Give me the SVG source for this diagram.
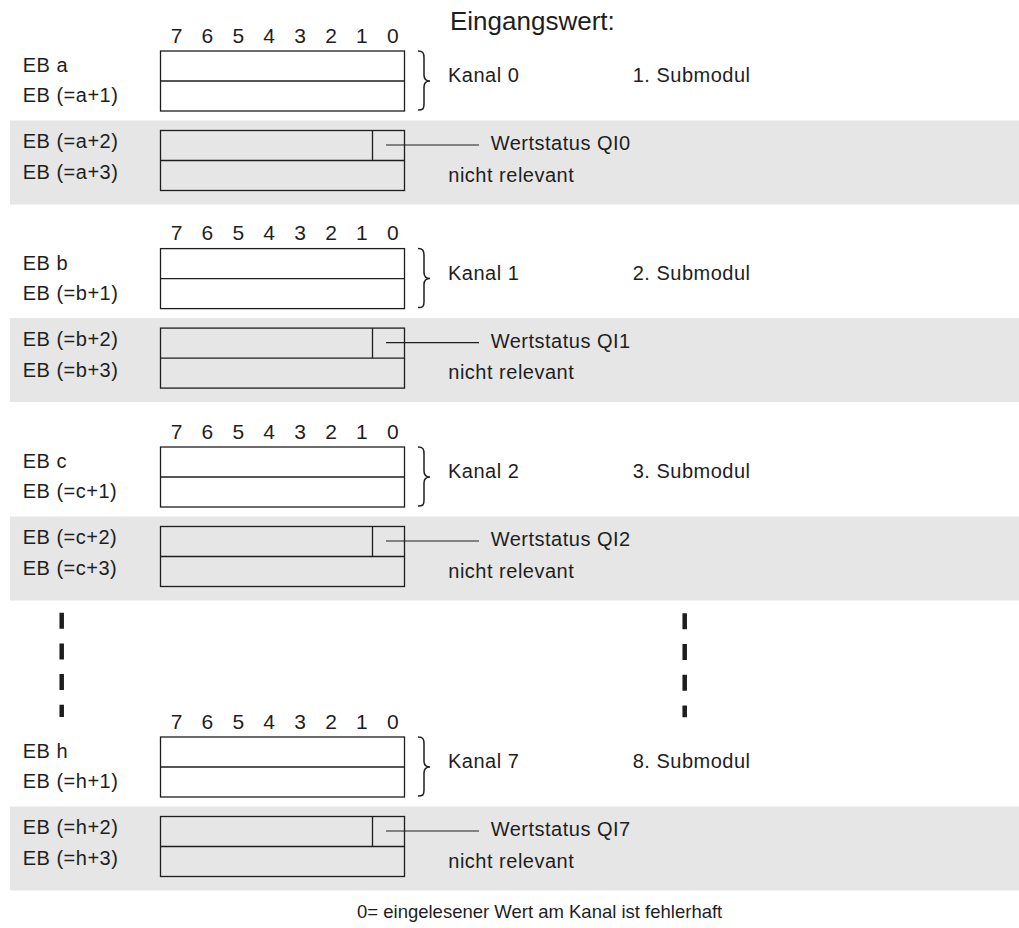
<svg xmlns="http://www.w3.org/2000/svg" width="1019" height="928" viewBox="0 0 1019 928">
  <style>
    text { font-family: "Liberation Sans", Arial, sans-serif; fill: #1e1e1e; }
    .lbl { font-size: 20px; letter-spacing: 0.5px; }
    .bit { font-size: 21px; text-anchor: middle; }
    .title { font-size: 26px; }
    .foot { font-size: 18.5px; }
    .band { fill: #e6e6e6; }
    .box { fill: none; stroke: #1e1e1e; stroke-width: 1.3; }
    .brace { fill: none; stroke: #1e1e1e; stroke-width: 1.5; }
    .lead { stroke: #1e1e1e; stroke-width: 1.2; }
    .dots { stroke: #1e1e1e; stroke-width: 4.5; stroke-dasharray: 16 14.7; }
  </style>
  <defs>
    <!-- bit numbering above a byte pair -->
    <g id="bits">
      <text class="bit" x="176.5" y="0">7</text>
      <text class="bit" x="207.4" y="0">6</text>
      <text class="bit" x="238.3" y="0">5</text>
      <text class="bit" x="269.2" y="0">4</text>
      <text class="bit" x="300.1" y="0">3</text>
      <text class="bit" x="331" y="0">2</text>
      <text class="bit" x="361.9" y="0">1</text>
      <text class="bit" x="392.8" y="0">0</text>
    </g>
    <!-- two data bytes with brace -->
    <g id="dataBytes">
      <rect class="box" x="160.5" y="51" width="244" height="60"/>
      <line class="box" x1="160.5" y1="81" x2="404.5" y2="81"/>
      <path class="brace" d="M418,51 C423,51 424,53 424,58 L424,75 C424,79 426,81 430,81 C426,81 424,83 424,87 L424,104 C424,109 423,110 418,110"/>
    </g>
    <!-- status bytes on grey band -->
    <g id="statusBytes">
      <rect class="band" x="10" y="120.5" width="1009" height="84"/>
      <rect class="box" x="160.5" y="130.5" width="244" height="60"/>
      <line class="box" x1="160.5" y1="160.5" x2="404.5" y2="160.5"/>
      <line class="box" x1="372.5" y1="130.5" x2="372.5" y2="160.5"/>
    </g>
  </defs>

  <text class="title" x="450" y="30">Eingangswert:</text>

  <!-- submodule 1 -->
  <g id="submodul1">
    <use href="#statusBytes"/>
    <use href="#dataBytes"/>
    <use href="#bits" y="42.5"/>
    <text class="lbl" x="22.7" y="72">EB a</text>
    <text class="lbl" x="22.7" y="102">EB (=a+1)</text>
    <text class="lbl" x="22.7" y="148">EB (=a+2)</text>
    <text class="lbl" x="22.7" y="179">EB (=a+3)</text>
    <text class="lbl" x="448" y="82">Kanal 0</text>
    <text class="lbl" x="632.7" y="82">1. Submodul</text>
    <text class="lbl" x="490.7" y="150">Wertstatus QI0</text>
    <text class="lbl" x="448.3" y="181.5">nicht relevant</text>
  </g>

  <!-- submodule 2 -->
  <g id="submodul2" transform="translate(0 197.6)">
    <use href="#statusBytes"/>
    <use href="#dataBytes"/>
    <use href="#bits" y="42.5"/>
    <text class="lbl" x="22.7" y="72">EB b</text>
    <text class="lbl" x="22.7" y="102">EB (=b+1)</text>
    <text class="lbl" x="22.7" y="148">EB (=b+2)</text>
    <text class="lbl" x="22.7" y="179">EB (=b+3)</text>
    <text class="lbl" x="448" y="82">Kanal 1</text>
    <text class="lbl" x="632.7" y="82">2. Submodul</text>
    <text class="lbl" x="490.7" y="150">Wertstatus QI1</text>
    <text class="lbl" x="448.3" y="181.5">nicht relevant</text>
  </g>

  <!-- submodule 3 -->
  <g id="submodul3" transform="translate(0 396)">
    <use href="#statusBytes"/>
    <use href="#dataBytes"/>
    <use href="#bits" y="42.5"/>
    <text class="lbl" x="22.7" y="72">EB c</text>
    <text class="lbl" x="22.7" y="102">EB (=c+1)</text>
    <text class="lbl" x="22.7" y="148">EB (=c+2)</text>
    <text class="lbl" x="22.7" y="179">EB (=c+3)</text>
    <text class="lbl" x="448" y="82">Kanal 2</text>
    <text class="lbl" x="632.7" y="82">3. Submodul</text>
    <text class="lbl" x="490.7" y="150">Wertstatus QI2</text>
    <text class="lbl" x="448.3" y="181.5">nicht relevant</text>
  </g>

  <!-- submodule 8 -->
  <g id="submodul8" transform="translate(0 686)">
    <use href="#statusBytes"/>
    <use href="#dataBytes"/>
    <use href="#bits" y="42.5"/>
    <text class="lbl" x="22.7" y="72">EB h</text>
    <text class="lbl" x="22.7" y="102">EB (=h+1)</text>
    <text class="lbl" x="22.7" y="148">EB (=h+2)</text>
    <text class="lbl" x="22.7" y="179">EB (=h+3)</text>
    <text class="lbl" x="448" y="82">Kanal 7</text>
    <text class="lbl" x="632.7" y="82">8. Submodul</text>
    <text class="lbl" x="490.7" y="150">Wertstatus QI7</text>
    <text class="lbl" x="448.3" y="181.5">nicht relevant</text>
  </g>

  <!-- continuation marks -->
  <g id="ellipsis">
    <line class="dots" x1="61.7" y1="612.7" x2="61.7" y2="717"/>
    <line class="dots" x1="684.7" y1="613.3" x2="684.7" y2="717.3"/>
  </g>

  <!-- leaders from QI bit to its label -->
  <g id="connectors">
    <line class="lead" x1="386" y1="145" x2="479" y2="145"/>
    <line class="lead" x1="386" y1="342.6" x2="479" y2="342.6"/>
    <line class="lead" x1="386" y1="541" x2="479" y2="541"/>
    <line class="lead" x1="386" y1="831" x2="479" y2="831"/>
  </g>

  <text class="foot" x="357" y="918">0= eingelesener Wert am Kanal ist fehlerhaft</text>
</svg>
